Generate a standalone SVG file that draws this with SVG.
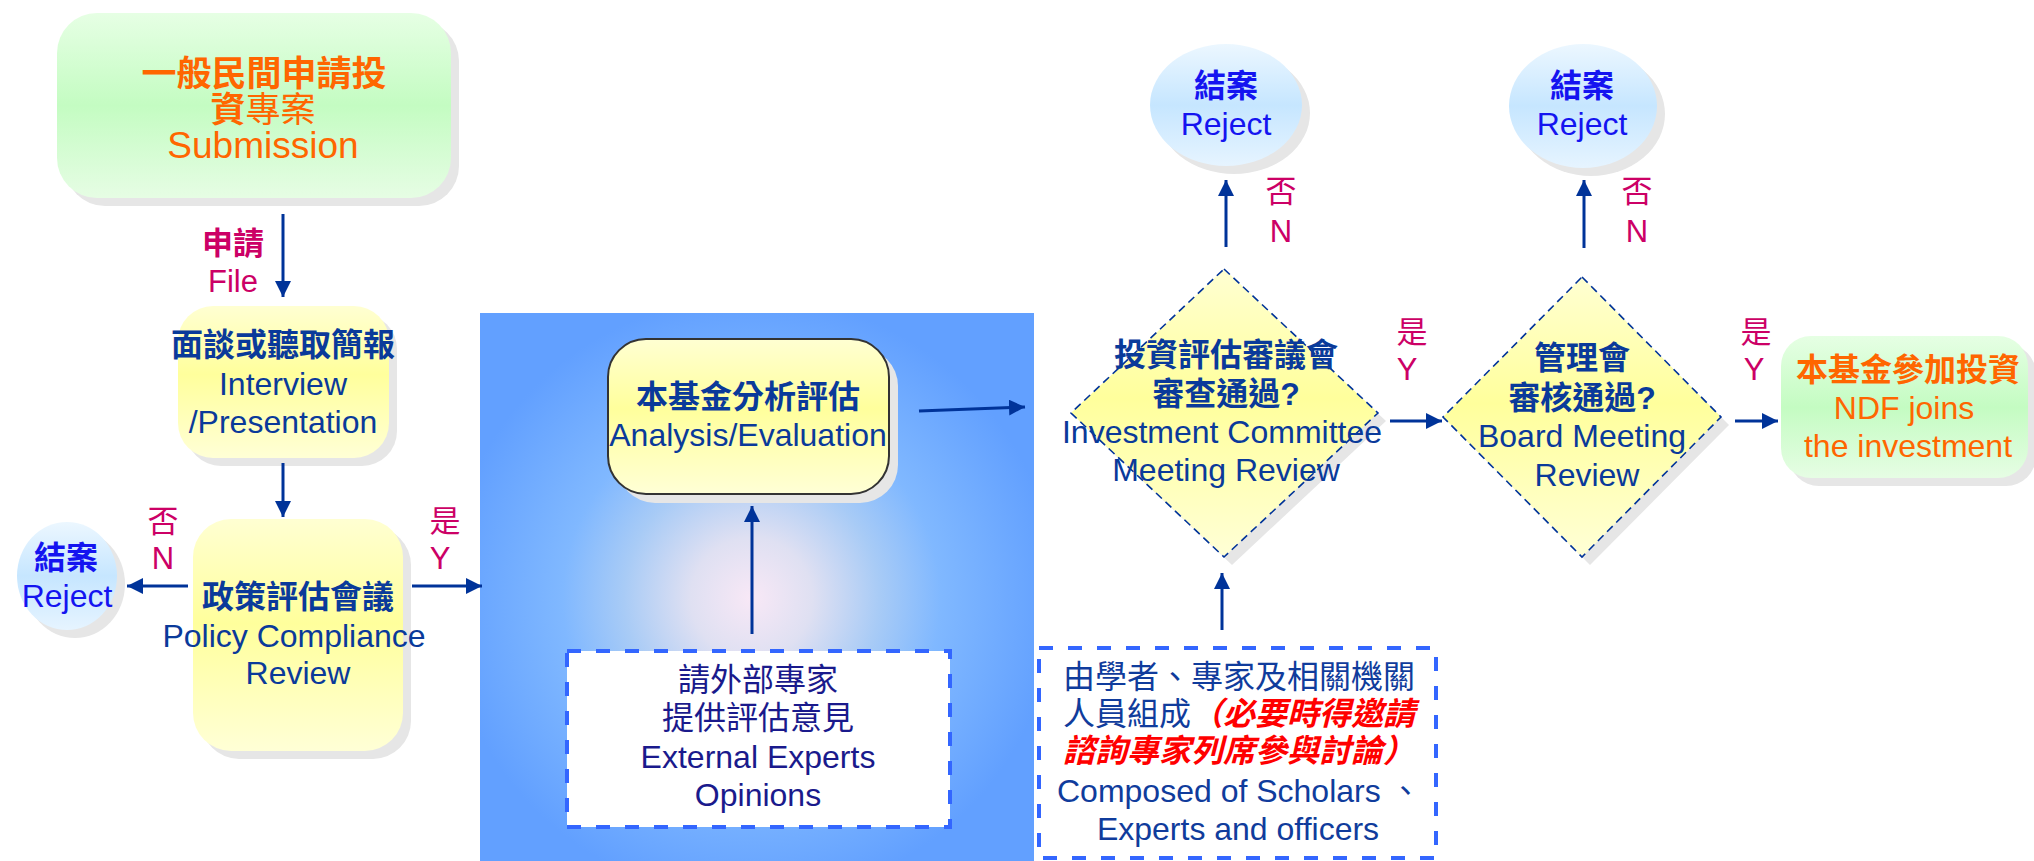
<svg xmlns="http://www.w3.org/2000/svg" width="2034" height="861" viewBox="0 0 2034 861">
<defs>
<linearGradient id="gYellow" x1="0" y1="0" x2="0" y2="1">
<stop offset="0" stop-color="#ffffd2"/><stop offset="0.45" stop-color="#ffff9c"/><stop offset="1" stop-color="#ffffd6"/>
</linearGradient>
<linearGradient id="gGreen" x1="0" y1="0" x2="0" y2="1">
<stop offset="0" stop-color="#e6ffe4"/><stop offset="0.5" stop-color="#c4fcc2"/><stop offset="1" stop-color="#e6fde4"/>
</linearGradient>
<linearGradient id="gBlue" x1="0" y1="0" x2="0" y2="1">
<stop offset="0" stop-color="#ecf7ff"/><stop offset="0.5" stop-color="#c6e6ff"/><stop offset="1" stop-color="#e6f4ff"/>
</linearGradient>
<radialGradient id="gPanel" cx="0.49" cy="0.52" r="0.55">
<stop offset="0" stop-color="#f8e8f6"/><stop offset="0.2" stop-color="#dfe0f2"/><stop offset="0.42" stop-color="#a8cbf6"/><stop offset="0.62" stop-color="#80b8ff"/><stop offset="1" stop-color="#62a0ff"/>
</radialGradient>
<marker id="ah" markerUnits="userSpaceOnUse" markerWidth="17" markerHeight="16" refX="16" refY="8" orient="auto">
<path d="M0,0 L16,8 L0,16 z" fill="#003399"/>
</marker>
<style>
text{font-family:"Liberation Sans","Noto Sans CJK TC",sans-serif;font-size:32px;text-anchor:middle}
.b{font-weight:bold}
.navy{fill:#0a3a9a}
.org{fill:#ff6600}
.mag{fill:#cc0066;font-size:31px}
.rej{fill:#1414f0}
.ind{fill:#1a1a8c}
.cb{fill:#103c9c}
.red{fill:#ff0000;font-weight:bold;font-style:italic}
.sh{fill:#e6e6e6}
.dia{fill:url(#gYellow);stroke:#003399;stroke-width:1.6;stroke-dasharray:8 5}
.dash{fill:#ffffff;stroke:#3366ff;stroke-width:4;stroke-dasharray:14 15}
.con{stroke:#003399;stroke-width:3;fill:none;marker-end:url(#ah)}
</style>
</defs>
<rect width="2034" height="861" fill="#ffffff"/>

<g id="panel">
<rect x="480" y="313" width="554" height="548" fill="url(#gPanel)"/>
</g>

<g id="submission">
<rect class="sh" x="65" y="21" width="394" height="185" rx="40"/>
<rect x="57" y="13" width="394" height="185" rx="40" fill="url(#gGreen)"/>
<text class="org b" x="264" y="86" style="font-size:35px">一般民間申請投</text>
<text class="org" x="263" y="122" style="font-size:35px"><tspan class="b">資</tspan>專案</text>
<text class="org" x="263" y="158" style="font-size:37px">Submission</text>
</g>

<g id="interview">
<rect class="sh" x="186" y="314" width="211" height="152" rx="35"/>
<rect x="178" y="306" width="211" height="152" rx="35" fill="url(#gYellow)"/>
<text class="navy b" x="283" y="356">面談或聽取簡報</text>
<text class="navy" x="283" y="395">Interview</text>
<text class="navy" x="283" y="433">/Presentation</text>
</g>

<g id="policy">
<rect class="sh" x="201" y="527" width="210" height="232" rx="38"/>
<rect x="193" y="519" width="210" height="232" rx="38" fill="url(#gYellow)"/>
<text class="navy b" x="298" y="608">政策評估會議</text>
<text class="navy" x="294" y="647">Policy Compliance</text>
<text class="navy" x="298" y="684">Review</text>
</g>

<g id="reject1">
<ellipse class="sh" cx="75" cy="584" rx="50" ry="54"/>
<ellipse cx="67" cy="576" rx="50" ry="54" fill="url(#gBlue)"/>
<text class="rej b" x="66" y="569">結案</text>
<text class="rej" x="67" y="607">Reject</text>
</g>

<g id="analysis">
<rect class="sh" x="617" y="348" width="281" height="155" rx="38"/>
<rect x="608" y="339" width="281" height="155" rx="38" fill="url(#gYellow)" stroke="#333333" stroke-width="2"/>
<text class="navy b" x="748" y="408">本基金分析評估</text>
<text class="navy" x="748" y="446">Analysis/Evaluation</text>
</g>

<g id="experts">
<rect class="dash" x="567" y="651" width="383" height="176"/>
<text class="ind" x="758" y="691">請外部專家</text>
<text class="ind" x="758" y="729">提供評估意見</text>
<text class="ind" x="758" y="768">External Experts</text>
<text class="ind" x="758" y="806">Opinions</text>
</g>

<g id="investment">
<polygon class="sh" points="1232,277 1386,421 1232,565 1079,421"/>
<polygon class="dia" points="1224,269 1378,413 1224,557 1071,413"/>
<text class="navy b" x="1226" y="366">投資評估審議會</text>
<text class="navy b" x="1226" y="405">審查通過?</text>
<text class="navy" x="1222" y="443">Investment Committee</text>
<text class="navy" x="1226" y="481">Meeting Review</text>
</g>

<g id="reject2">
<ellipse class="sh" cx="1234" cy="113" rx="76" ry="61"/>
<ellipse cx="1226" cy="105" rx="76" ry="61" fill="url(#gBlue)"/>
<text class="rej b" x="1226" y="97">結案</text>
<text class="rej" x="1226" y="135">Reject</text>
</g>

<g id="composed">
<rect class="dash" x="1039" y="648" width="397" height="210"/>
<text class="cb" x="1063" y="688" style="text-anchor:start">由學者、專家及相關機關</text>
<text class="cb" x="1063" y="725" style="text-anchor:start">人員組成<tspan class="red">（必要時得邀請</tspan></text>
<text class="red" x="1063" y="762" style="text-anchor:start">諮詢專家列席參與討論）</text>
<text class="cb" x="1057" y="802" style="text-anchor:start">Composed of Scholars 、</text>
<text class="cb" x="1238" y="840">Experts and officers</text>
</g>

<g id="board">
<polygon class="sh" points="1590,285 1729,425 1590,565 1451,425"/>
<polygon class="dia" points="1582,277 1721,417 1582,557 1443,417"/>
<text class="navy b" x="1582" y="369">管理會</text>
<text class="navy b" x="1582" y="409">審核通過?</text>
<text class="navy" x="1582" y="447">Board Meeting</text>
<text class="navy" x="1587" y="486">Review</text>
</g>

<g id="reject3">
<ellipse class="sh" cx="1591" cy="114" rx="74" ry="62"/>
<ellipse cx="1583" cy="106" rx="74" ry="62" fill="url(#gBlue)"/>
<text class="rej b" x="1582" y="97">結案</text>
<text class="rej" x="1582" y="135">Reject</text>
</g>

<g id="ndf">
<rect class="sh" x="1789" y="344" width="247" height="142" rx="30"/>
<rect x="1781" y="336" width="247" height="142" rx="30" fill="url(#gGreen)"/>
<text class="org b" x="1908" y="381">本基金參加投資</text>
<text class="org" x="1904" y="419">NDF joins</text>
<text class="org" x="1908" y="457">the investment</text>
</g>

<g id="connectors">
<line class="con" x1="283" y1="214" x2="283" y2="297"/>
<line class="con" x1="283" y1="463" x2="283" y2="517"/>
<line class="con" x1="188" y1="586" x2="127" y2="586"/>
<line class="con" x1="412" y1="586" x2="482" y2="586"/>
<line class="con" x1="752" y1="634" x2="752" y2="506"/>
<line class="con" x1="919" y1="411" x2="1025" y2="407"/>
<line class="con" x1="1226" y1="247" x2="1226" y2="180"/>
<line class="con" x1="1390" y1="421" x2="1442" y2="421"/>
<line class="con" x1="1222" y1="630" x2="1222" y2="573"/>
<line class="con" x1="1584" y1="248" x2="1584" y2="180"/>
<line class="con" x1="1735" y1="421" x2="1778" y2="421"/>
<text class="mag b" x="233" y="254">申請</text>
<text class="mag" x="233" y="292">File</text>
<text class="mag" x="163" y="532">否</text>
<text class="mag" x="163" y="569">N</text>
<text class="mag" x="445" y="532">是</text>
<text class="mag" x="440" y="569">Y</text>
<text class="mag" x="1281" y="202">否</text>
<text class="mag" x="1281" y="242">N</text>
<text class="mag" x="1412" y="343">是</text>
<text class="mag" x="1407" y="380">Y</text>
<text class="mag" x="1637" y="202">否</text>
<text class="mag" x="1637" y="242">N</text>
<text class="mag" x="1756" y="343">是</text>
<text class="mag" x="1754" y="380">Y</text>
</g>
</svg>
